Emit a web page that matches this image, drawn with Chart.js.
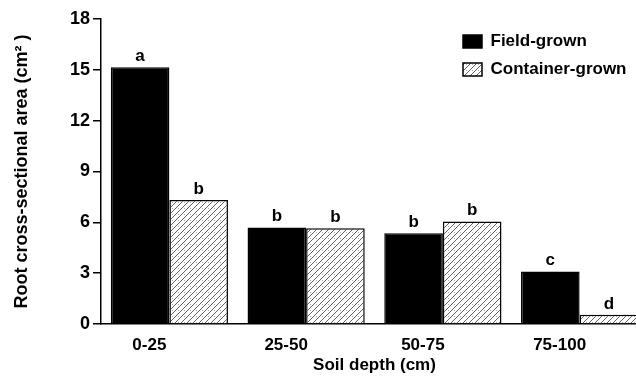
<!DOCTYPE html>
<html>
<head>
<meta charset="utf-8">
<script src="https://cdn.jsdelivr.net/npm/chart.js@4"></script>
<style>
  html, body { margin: 0; padding: 0; background: #fff; overflow: hidden; }
  #wrap { width: 648px; height: 382px; }
</style>
</head>
<body>
<div id="wrap"><canvas id="rootChart"></canvas></div>
<script>
// data
const depths = ['0-25', '25-50', '50-75', '75-100'];
const fieldGrown = [15.15, 5.7, 5.35, 3.1];
const containerGrown = [7.32, 5.65, 6.05, 0.55];
const fieldLetters = ['a', 'b', 'b', 'c'];
const containerLetters = ['b', 'b', 'b', 'd'];
const yTicks = [0, 3, 6, 9, 12, 15, 18];

const FONT = '"Liberation Sans", Arial, sans-serif';

// diagonal hatch for the container-grown bars
function hatch() {
  const c = document.createElement('canvas');
  c.width = 6;
  c.height = 6;
  const g = c.getContext('2d');
  g.fillStyle = '#fff';
  g.fillRect(0, 0, 6, 6);
  g.strokeStyle = '#3a3a3a';
  g.lineWidth = 0.8;
  g.beginPath();
  g.moveTo(0, 6); g.lineTo(6, 0);
  g.moveTo(-1, 1); g.lineTo(1, -1);
  g.moveTo(5, 7); g.lineTo(7, 5);
  g.stroke();
  g.fillStyle = '#aaa';
  g.fillRect(4, 4, 1, 1);
  return g.createPattern(c, 'repeat');
}

// significance letters above each bar
const letterPlugin = {
  id: 'letters',
  afterDatasetsDraw(chart) {
    const ctx = chart.ctx;
    ctx.save();
    ctx.font = 'bold 17px ' + FONT;
    ctx.fillStyle = '#000';
    ctx.textAlign = 'center';
    ctx.textBaseline = 'alphabetic';
    [fieldLetters, containerLetters].forEach((letters, i) => {
      chart.getDatasetMeta(i).data.forEach((bar, j) => {
        ctx.fillText(letters[j], bar.x, bar.y - 6);
      });
    });
    ctx.restore();
  }
};

// move the in-chart legend to the top right corner
const legendPlace = {
  id: 'legendPlace',
  afterLayout(chart) {
    const lg = chart.legend;
    const area = chart.chartArea;
    lg.left = area.right - 196;
    lg.top = area.top + 3;
  }
};

const ctx = document.getElementById('rootChart').getContext('2d');
new Chart(ctx, {
  type: 'bar',
  data: {
    labels: depths,
    datasets: [{
      label: 'Field-grown',
      data: fieldGrown,
      backgroundColor: '#000',
      borderColor: '#000',
      borderWidth: 1.5
    }, {
      label: 'Container-grown',
      data: containerGrown,
      backgroundColor: hatch(),
      borderColor: '#000',
      borderWidth: 1.5
    }]
  },
  options: {
    responsive: true,
    maintainAspectRatio: false,
    animation: false,
    events: [],
    categoryPercentage: 0.857,
    barPercentage: 1.0,
    layout: { padding: { top: 19, right: 0, bottom: 0, left: 0 } },
    plugins: {
      tooltip: { enabled: false },
      legend: {
        position: 'chartArea',
        align: 'start',
        labels: {
          boxWidth: 19,
          boxHeight: 13,
          padding: 11,
          color: '#000',
          font: { family: FONT, size: 17, weight: 'bold' }
        }
      }
    },
    scales: {
      x: {
        grid: { display: false, drawTicks: false },
        border: { display: true, color: '#000', width: 1.5 },
        ticks: {
          color: '#000',
          padding: 11,
          labelOffset: -20,
          font: { family: FONT, size: 17, weight: 'bold' }
        },
        title: {
          display: true,
          text: 'Soil depth (cm)',
          color: '#000',
          font: { family: FONT, size: 17, weight: 'bold' },
          padding: { top: 0, bottom: 6 }
        },
        afterFit(scale) { scale.height = 58; }
      },
      y: {
        min: yTicks[0],
        max: yTicks[yTicks.length - 1],
        ticks: {
          stepSize: yTicks[1] - yTicks[0],
          color: '#000',
          padding: 3,
          font: { family: FONT, size: 18, weight: 'bold' }
        },
        grid: {
          drawOnChartArea: false,
          drawTicks: true,
          tickLength: 8,
          color: '#000',
          lineWidth: 1.5
        },
        border: { color: '#000', width: 1.5 },
        title: {
          display: true,
          text: 'Root cross-sectional area (cm² )',
          color: '#000',
          font: { family: FONT, size: 18, weight: 'bold' },
          padding: { top: 11, bottom: 0 }
        },
        afterFit(scale) { scale.width = 101; }
      }
    }
  },
  plugins: [letterPlugin, legendPlace]
});
</script>
</body>
</html>
